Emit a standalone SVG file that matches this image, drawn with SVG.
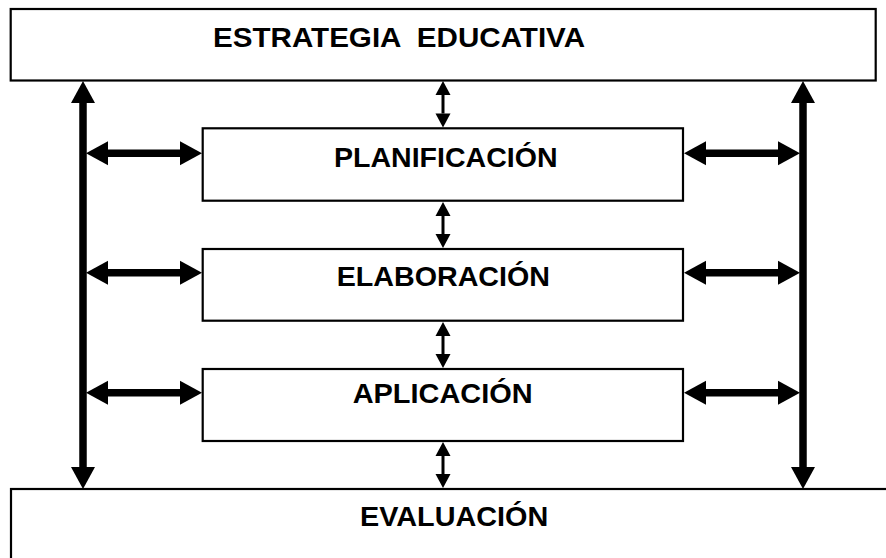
<svg xmlns="http://www.w3.org/2000/svg" width="886" height="558" viewBox="0 0 886 558">
  <style>
    .box { fill: #fff; stroke: #000; stroke-width: 2.2; }
    .lbl { font-family: "Liberation Sans", Arial, sans-serif; font-weight: bold; font-size: 28px; fill: #000; }
    .thick { stroke: #000; stroke-width: 7.5; fill: none; marker-start: url(#hb); marker-end: url(#hb); }
    .thin { stroke: #000; stroke-width: 3; fill: none; marker-start: url(#hs); marker-end: url(#hs); }
  </style>
  <defs>
    <marker id="hb" markerUnits="userSpaceOnUse" markerWidth="23" markerHeight="24" refX="0" refY="12" orient="auto-start-reverse" overflow="visible">
      <path d="M0,0 L22,12 L0,24 Z" fill="#000"/>
    </marker>
    <marker id="hs" markerUnits="userSpaceOnUse" markerWidth="15" markerHeight="16" refX="0" refY="7.5" orient="auto-start-reverse" overflow="visible">
      <path d="M0,0 L14,7.5 L0,15 Z" fill="#000"/>
    </marker>
  </defs>

  <g id="estrategia">
    <rect class="box" x="10.7" y="9" width="865" height="71.5"/>
    <text class="lbl" x="213" y="47" textLength="372" lengthAdjust="spacingAndGlyphs" xml:space="preserve">ESTRATEGIA  EDUCATIVA</text>
  </g>
  <g id="planificacion">
    <rect class="box" x="202.7" y="128.3" width="480.3" height="72.4"/>
    <text class="lbl" x="334" y="167" textLength="223.5" lengthAdjust="spacingAndGlyphs">PLANIFICACIÓN</text>
  </g>
  <g id="elaboracion">
    <rect class="box" x="202.7" y="249" width="480.3" height="71.7"/>
    <text class="lbl" x="336.7" y="286.3" textLength="213.3" lengthAdjust="spacingAndGlyphs">ELABORACIÓN</text>
  </g>
  <g id="aplicacion">
    <rect class="box" x="202.7" y="369" width="480.3" height="72"/>
    <text class="lbl" x="352.7" y="402.5" textLength="180" lengthAdjust="spacingAndGlyphs">APLICACIÓN</text>
  </g>
  <g id="evaluacion">
    <rect class="box" x="11" y="489" width="900" height="100"/>
    <text class="lbl" x="360" y="525.8" textLength="188.3" lengthAdjust="spacingAndGlyphs">EVALUACIÓN</text>
  </g>

  <g id="connectors">
    <line class="thick" x1="83" y1="103" x2="83" y2="467"/>
    <line class="thick" x1="803" y1="103" x2="803" y2="467"/>
    <line class="thick" x1="108" y1="153.3" x2="180" y2="153.3"/>
    <line class="thick" x1="108" y1="272.7" x2="180" y2="272.7"/>
    <line class="thick" x1="108" y1="392.7" x2="180" y2="392.7"/>
    <line class="thick" x1="706" y1="153.3" x2="778" y2="153.3"/>
    <line class="thick" x1="706" y1="272.7" x2="778" y2="272.7"/>
    <line class="thick" x1="706" y1="392.7" x2="778" y2="392.7"/>
    <line class="thin" x1="443" y1="95" x2="443" y2="113.5"/>
    <line class="thin" x1="443" y1="216" x2="443" y2="234"/>
    <line class="thin" x1="443" y1="336" x2="443" y2="354"/>
    <line class="thin" x1="443" y1="456" x2="443" y2="474"/>
  </g>
</svg>
